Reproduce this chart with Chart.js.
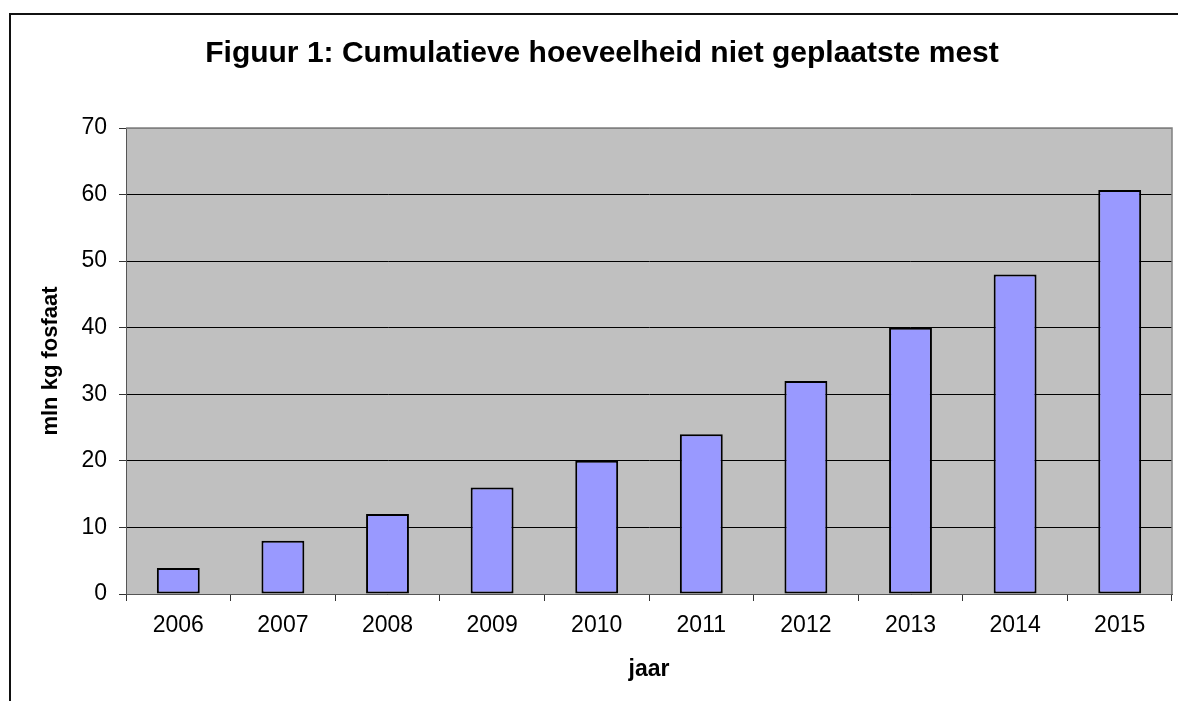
<!DOCTYPE html>
<html>
<head>
<meta charset="utf-8">
<script src="https://cdn.jsdelivr.net/npm/chart.js@4.4.1/dist/chart.umd.min.js"></script>
<style>
  html, body { margin: 0; padding: 0; background: #fff; overflow: hidden; }
  #frame { position: absolute; left: 9px; top: 13px; width: 1182px; height: 700px; border: 2px solid #111; }
  canvas { display: block; }
</style>
</head>
<body>
<div id="frame"><canvas id="cv" width="1182" height="700"></canvas></div>
<script>
// data
const jaren = ['2006', '2007', '2008', '2009', '2010', '2011', '2012', '2013', '2014', '2015'];
const fosfaat = [3.9, 8, 12, 16, 20, 24, 32, 40, 48, 60.7];
const yMin = 0, yMax = 70, yStap = 10;

const titel = 'Figuur 1: Cumulatieve hoeveelheid niet geplaatste mest';
const yTitel = 'mln kg fosfaat';
const xTitel = 'jaar';

const FONT = "'Liberation Sans', Arial, sans-serif";

// grey plot background + grey frame on top/right
const plotVlak = {
  id: 'plotVlak',
  beforeDraw(chart) {
    const { ctx, chartArea: a } = chart;
    ctx.save();
    ctx.fillStyle = '#c0c0c0';
    ctx.fillRect(a.left, a.top, a.right - a.left, a.bottom - a.top);
    ctx.restore();
  },
  afterDraw(chart) {
    const { ctx, chartArea: a } = chart;
    ctx.save();
    ctx.strokeStyle = '#808080';
    ctx.lineWidth = 1.5;
    ctx.beginPath();
    ctx.moveTo(a.left, a.top);
    ctx.lineTo(a.right, a.top);
    ctx.lineTo(a.right, a.bottom);
    ctx.stroke();
    ctx.restore();
  }
};

new Chart(document.getElementById('cv'), {
  type: 'bar',
  data: {
    labels: jaren,
    datasets: [{
      data: fosfaat,
      backgroundColor: '#9999ff',
      borderColor: '#000',
      borderWidth: 2,
      borderSkipped: false,
      categoryPercentage: 1,
      barPercentage: 0.41
    }]
  },
  options: {
    responsive: false,
    animation: false,
    layout: { padding: 0 },
    plugins: {
      legend: { display: false },
      tooltip: { enabled: false },
      title: {
        display: true,
        text: titel,
        color: '#000',
        font: { family: FONT, size: 30, weight: 'bold' },
        padding: { top: 21, bottom: 56 }
      }
    },
    scales: {
      x: {
        grid: { display: true, drawOnChartArea: false, drawTicks: true, tickLength: 7, tickColor: '#333' },
        border: { display: true, color: '#555', width: 1 },
        ticks: { color: '#000', font: { family: FONT, size: 23 }, padding: 11, maxRotation: 0 },
        title: { display: true, text: xTitel, color: '#000', font: { family: FONT, size: 23, weight: 'bold' }, padding: { top: 0, bottom: 32 } },
        afterFit(s) { s.height = 121; }
      },
      y: {
        min: yMin,
        max: yMax,
        ticks: { stepSize: yStap, color: '#000', font: { family: FONT, size: 23 }, padding: 12 },
        grid: {
          color: c => (c.tick && c.tick.value === yMax) ? '#808080' : '#000',
          lineWidth: 1,
          drawTicks: true,
          tickLength: 7,
          tickColor: '#333'
        },
        border: { display: true, color: '#555', width: 1 },
        title: { display: true, text: yTitel, color: '#000', font: { family: FONT, size: 22, weight: 'bold' }, padding: { top: 27, bottom: 0 } },
        afterFit(s) { s.width = 115; }
      },
      // empty strip on the right so the plot ends where the reference does
      rechts: {
        type: 'linear',
        axis: 'y',
        position: 'right',
        min: yMin,
        max: yMax,
        grid: { display: false },
        border: { display: false },
        ticks: { display: false },
        afterFit(s) { s.width = 21; }
      }
    }
  },
  plugins: [plotVlak]
});
</script>
</body>
</html>
